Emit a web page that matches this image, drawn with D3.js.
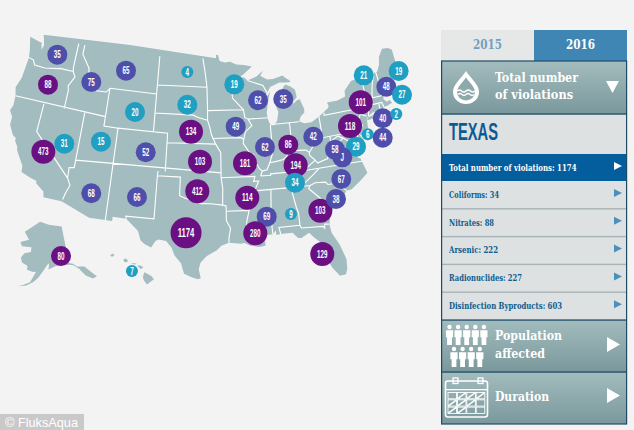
<!DOCTYPE html>
<html><head><meta charset="utf-8">
<script src="https://cdn.jsdelivr.net/npm/d3@7"></script>
<style>html,body{margin:0;padding:0;background:#f3f3f3}svg{display:block}</style></head>
<body><svg id="c" width="634" height="430"></svg>
<script>
// ---- data ----
const states=["WA","OR","ID","MT","ND","SD","WY","NE","KS","OK","TX","NV","CA","UT","CO","AZ","NM","MN","WI","MI","IA","IL","IN","OH","MO","KY","TN","AR","MS","AL","LA","GA","SC","NC","WV","MD","VA","DE","PA","NY","NJ","CT","RI","NH","MA","ME","VT","FL"];
const values=[35,88,75,65,4,32,20,134,103,412,1174,31,473,15,52,68,66,19,62,35,49,62,86,42,181,194,34,114,69,9,280,103,38,67,58,29,50,6,118,101,40,44,2,48,27,19,21,129];
const lons=[-119.89,-120.12,-113.95,-109.04,-99.61,-99.43,-106.94,-98.77,-97.44,-97.73,-99.02,-115.97,-118.48,-111.11,-104.86,-111.29,-105.44,-92.42,-89.01,-85.29,-92.45,-88.53,-85.31,-81.75,-91.38,-84.64,-85,-91.3,-89,-85.95,-90.54,-82.26,-80.09,-78.98,-79.11,-76.25,-78.33,-74.33,-76.47,-74.27,-71.79,-72.46,-69.81,-70.13,-68.28,-67.74,-72.92,-82.77];
const lats=[47.34,44.04,45.31,47.08,47.51,44.07,42.9,41.27,38.16,35.08,30.73,38.44,37.14,39.35,38.84,33.88,34.12,46.21,44.4,44.28,41.77,39.48,39.49,39.97,37.92,37.27,35.48,34.33,32.23,32.28,30.57,32.24,33.19,35.15,38.27,38.16,37.35,39.15,40.39,42.57,40.4,38.44,40.46,43.48,42.22,44.7,45.24,27.71];
const labelOverride={VA:"J"};
const akValue=80, akLonLat=[-144.45,62.37];
const hiValue=7, hiLonLat=[-157.28,20.37];
const yearTabs=["2015","2016"];
const stateName="TEXAS";
const totalLabel="Total number of violations", totalValue=1174;
const subLabels=["Coliforms","Nitrates","Arsenic","Radionuclides","Disinfection Byproducts"];
const subValues=[34,88,222,227,603];

// ---- base geography (lon, lat) ----
const landLine=[[-124.7,48.38],[-123.1,48.15],[-122.75,48.15],[-122.45,47.4],[-122.25,47.9],[-122.5,48.5],[-122.76,49],[-95.15,49],[-95.15,49.38],[-94.82,49.32],[-94.6,48.72],[-93.8,48.55],[-92.95,48.62],[-92,48.3],[-90.8,48.2],[-89.6,48],[-90.8,47.3],[-92,46.7],[-90.9,46.9],[-90.4,46.55],[-89,46.9],[-87.9,47.47],[-88.4,46.95],[-87.4,46.5],[-86.5,46.5],[-85,46.75],[-84.6,46.45],[-84.1,46.2],[-83.9,45.97],[-84.7,45.97],[-85.6,46.05],[-86.4,45.85],[-87,45.7],[-87.6,45.1],[-88,44.55],[-87.4,44.9],[-87.1,45.25],[-87.5,44.3],[-87.9,43],[-87.8,42.3],[-87.5,41.7],[-87,41.65],[-86.5,42.1],[-86.2,43],[-86.5,43.7],[-86.2,44.7],[-85.6,45],[-85,45.6],[-84.75,45.78],[-84,45.5],[-83.4,45.1],[-83.3,44.3],[-83.9,43.9],[-83.9,43.65],[-83.4,43.95],[-82.9,44.05],[-82.45,43],[-82.5,42.6],[-83.1,42.25],[-83.4,41.75],[-82.7,41.5],[-81.7,41.5],[-80.5,41.97],[-79,42.7],[-78.9,42.9],[-79.05,43.27],[-77.5,43.25],[-76.3,43.5],[-76.2,44.1],[-75,44.95],[-74.7,45],[-71.5,45],[-71.4,45.25],[-70.85,45.25],[-70.3,45.9],[-70,46.7],[-69.2,47.45],[-68.3,47.35],[-67.8,47.07],[-67.8,45.7],[-67.45,45.3],[-67,44.85],[-68.2,44.3],[-69,44.1],[-70.2,43.6],[-70.7,43.05],[-70.8,42.8],[-71,42.3],[-70.6,41.95],[-70.2,42.07],[-69.95,41.7],[-70.65,41.55],[-71.2,41.5],[-71.5,41.37],[-72.9,41.25],[-73.65,40.98],[-74,40.7],[-74,40.45],[-74.1,39.75],[-74.9,38.95],[-75.55,39.5],[-75.1,38.75],[-75.05,38.4],[-75.9,37.15],[-75.7,37.9],[-76.2,38.7],[-76.05,39.4],[-76.5,39],[-76.4,38.2],[-76.3,37],[-76,36.9],[-75.5,35.25],[-76.5,34.65],[-77.9,33.9],[-78.6,33.85],[-79.2,33.2],[-80,32.6],[-81,32],[-81.4,30.7],[-81.3,29.8],[-80.55,28.4],[-80.05,26.8],[-80.15,25.75],[-80.4,25.2],[-81.1,25.15],[-81.8,26.1],[-82.2,26.9],[-82.75,27.8],[-82.6,28.8],[-83.4,29.5],[-84,30.1],[-85,29.65],[-85.4,29.7],[-86,30.3],[-87.5,30.3],[-88,30.25],[-88,30.7],[-88.4,30.35],[-89.3,30.3],[-89.6,30.15],[-89.4,29.8],[-89.4,29.2],[-90.2,29.1],[-91.2,29.3],[-91.9,29.6],[-92.3,29.55],[-93.8,29.7],[-94.7,29.4],[-95.3,28.9],[-96.5,28.3],[-97.2,27.6],[-97.4,26.9],[-97.15,25.95],[-97.5,25.85],[-98.2,26.05],[-99.1,26.4],[-99.5,27.5],[-100.3,28.3],[-100.7,29.1],[-101.4,29.77],[-102.3,29.88],[-102.7,29.7],[-103.15,28.98],[-104,29.3],[-104.5,29.65],[-104.9,30.6],[-106,31.4],[-106.5,31.75],[-108.2,31.78],[-108.2,31.33],[-111.07,31.33],[-114.8,32.5],[-117.12,32.53],[-117.3,33.1],[-118.4,33.75],[-118.5,34.03],[-119.2,34.15],[-120.6,34.55],[-120.7,35.2],[-121.9,36.6],[-122,36.96],[-122.5,37.5],[-122.5,37.8],[-123,38],[-123.75,38.95],[-123.8,39.8],[-124.35,40.4],[-124.1,41],[-124.2,42],[-124.55,42.85],[-124.1,44],[-123.95,46.2],[-124.1,46.9],[-124.7,48.38]];
const longIsland=[[-74,40.6],[-73.7,40.88],[-72.6,40.98],[-72,41.08],[-72.5,40.82],[-73.5,40.6],[-74,40.6]];
const borders=[
[[-124,46.25],[-123.2,46.15],[-122.8,45.65],[-121.2,45.65],[-119.3,45.93],[-119,46],[-116.92,46]],
[[-117.03,49],[-117.04,46.42],[-116.92,46],[-116.5,45.5],[-117.2,44.4],[-117.03,44],[-117.03,42]],
[[-124.2,42],[-111.05,42]],
[[-120,42],[-120,39],[-114.63,35],[-114.15,34.3],[-114.5,33.5],[-114.72,32.72]],
[[-114.04,42],[-114.04,36.2],[-114.7,36.1],[-114.63,35]],
[[-111.05,42],[-111.05,41],[-109.05,41],[-109.05,31.33]],
[[-114.04,37],[-94.62,37]],
[[-103,37],[-103.04,36.5],[-103.06,32],[-106.6,32],[-106.5,31.75]],
[[-103.04,36.5],[-100,36.5],[-100,34.56],[-99.2,34.3],[-98.1,34.1],[-97.2,33.8],[-96,33.8],[-94.48,33.64],[-94.04,33.55],[-94.04,32],[-93.55,31.2],[-93.75,30.3],[-93.8,29.7]],
[[-94.62,37],[-94.62,36.5],[-94.43,35.4],[-94.48,33.64]],
[[-109.05,41],[-102.05,41],[-102.04,37]],
[[-102.05,40],[-95.3,40]],
[[-111.05,45],[-104.05,45]],
[[-111.05,45],[-111.05,42]],
[[-104.05,45],[-104.05,41]],
[[-116.05,49],[-116.05,48],[-114.7,46.7],[-114.4,45.6],[-113.5,45.1],[-113,44.5],[-111.5,44.55],[-111.05,45]],
[[-104.05,49],[-104.05,45]],
[[-104.05,45.94],[-96.56,45.94]],
[[-104.05,43],[-98.5,43],[-97.9,42.8],[-96.45,42.49]],
[[-97.23,49],[-96.85,47.5],[-96.56,45.94],[-96.45,43.5],[-96.45,42.49],[-96.1,41.7],[-95.9,41],[-95.3,40],[-94.62,39.1],[-94.62,37]],
[[-96.45,43.5],[-91.22,43.5]],
[[-95.77,40.58],[-91.73,40.61],[-91.4,40.4]],
[[-92,46.7],[-92.3,46.1],[-92.85,45.6],[-92.75,44.75],[-91.22,43.5],[-91.1,42.7],[-90.64,42.5],[-90.15,41.8],[-91.1,41.2],[-91.4,40.4],[-91.5,40],[-90.7,39],[-90.15,38.8],[-90.2,38.4],[-89.5,37.3],[-89.15,37],[-89.4,36.5]],
[[-90.64,42.5],[-87.8,42.5]],
[[-90.4,46.55],[-88.1,45.9],[-87.6,45.1]],
[[-87.53,41.7],[-87.53,39.35],[-87.6,38.7],[-88.05,37.8],[-88.5,37.1],[-89.15,37]],
[[-88.05,37.8],[-87,37.9],[-86.2,38],[-85.7,38.3],[-85.4,38.7],[-84.82,39.1],[-84.3,38.8],[-83,38.7],[-82.6,38.4],[-81.75,39.2],[-80.85,39.7],[-80.52,40.64],[-80.52,41.97]],
[[-84.82,39.1],[-84.8,41.75]],
[[-87,41.76],[-84.8,41.75],[-83.45,41.73]],
[[-79.76,42.27],[-79.76,42],[-75.35,42],[-74.7,41.35],[-75.1,40.9],[-75.2,40.6],[-74.75,40.2],[-75.4,39.8]],
[[-74.7,41.35],[-73.9,41]],
[[-80.52,40.64],[-80.52,39.72],[-75.79,39.72],[-75.7,38.46],[-75.05,38.45]],
[[-79.48,39.72],[-79.48,39.2],[-78.4,39.6],[-77.75,39.3],[-77.1,38.9],[-77.3,38.4],[-76.3,38]],
[[-77.75,39.3],[-78.9,38.7],[-79.65,38.55],[-80.3,37.5],[-81.7,37.2],[-81.97,37.54],[-82.6,38.1],[-82.6,38.4]],
[[-81.97,37.54],[-83.68,36.6]],
[[-75.9,36.55],[-83.68,36.6],[-88.07,36.65],[-88.07,36.5],[-89.4,36.5]],
[[-94.62,36.5],[-90.15,36.5],[-90.37,36],[-89.7,36],[-90.3,35],[-91.1,33.9],[-91.15,33],[-91.5,31.9],[-91.6,31],[-89.75,31],[-89.6,30.15]],
[[-94.04,33],[-91.15,33]],
[[-90.3,35],[-84.3,35],[-83.1,35],[-82.4,35.2],[-81.05,35.1],[-80.8,34.82],[-79.67,34.8],[-78.55,33.86]],
[[-81.68,36.59],[-82.6,36],[-84.3,35]],
[[-83.1,35],[-83.35,34.7],[-82,33.5],[-81.4,32.6],[-80.9,32.03]],
[[-85.6,35],[-85.18,32.87],[-85,32.3],[-85,31],[-84.86,30.7],[-82.2,30.57],[-82.05,30.36],[-81.95,30.8],[-81.45,30.72]],
[[-85,31],[-87.6,31],[-87.45,30.3]],
[[-88.2,35],[-88.47,31.9],[-88.4,30.35]],
[[-73.35,45],[-73.4,43.6],[-73.27,42.75],[-73.5,42.05],[-73.5,41.3],[-73.65,41]],
[[-71.5,45],[-72.05,44.1],[-72.45,43],[-72.46,42.73]],
[[-73.27,42.75],[-71.3,42.7],[-70.8,42.87]],
[[-71.08,45.3],[-70.98,43.4],[-70.7,43.07]],
[[-73.5,42.05],[-71.38,42.02],[-71.2,41.5]],
[[-71.8,42.02],[-71.85,41.32]]];
const alaskaLine=[[-141,69.65],[-141,60.3],[-139,59.9],[-137.5,59],[-134,58.5],[-131,56],[-130,55.2],[-132,55],[-134.5,56.2],[-136.3,57.8],[-136.5,58.2],[-139,59.5],[-141,59.9],[-144,60],[-148,60],[-151.5,59.3],[-151,61],[-149.9,61.2],[-152,60.5],[-154,59],[-156.5,57.2],[-158.5,56.1],[-161.5,55.1],[-165,54.6],[-163,55.1],[-160,56],[-157.5,58.7],[-159,58.6],[-162,59],[-162,60],[-165,60.6],[-166,61.8],[-164.5,63],[-161,63.5],[-161,64.7],[-166.5,64.6],[-168,65.6],[-163,66.5],[-166.5,68.3],[-163,69.5],[-156.5,71.3],[-150,70.5],[-141,69.65]];
const hawaiiLines=[[[-159.75,22.05],[-159.35,22.2],[-159.3,21.95],[-159.55,21.88],[-159.75,22.05]],[[-158.25,21.55],[-158,21.7],[-157.7,21.45],[-157.9,21.3],[-158.1,21.3],[-158.25,21.55]],[[-157.3,21.2],[-156.75,21.17],[-156.85,21.05],[-157.3,21.1],[-157.3,21.2]],[[-156.7,20.95],[-156.3,20.95],[-156,20.75],[-156.3,20.58],[-156.5,20.78],[-156.7,20.95]],[[-155.9,20.25],[-155.6,20.1],[-155.1,19.85],[-154.8,19.5],[-155.6,18.95],[-155.95,19.4],[-156.05,19.75],[-155.9,20.25]]];

// ---- projections and scales ----
const svg=d3.select("#c");
const conus=d3.geoAlbers().rotate([96,0]).center([-0.6,38.7]).parallels([29.5,45.5]).scale(545.32).translate([206.26,156.62]);
const ak=d3.geoAlbers().rotate([154,0]).center([0,62]).parallels([55,65]).scale(229.25).translate([43.39,258.74]);
const hi=d3.geoMercator().scale(509.3).translate([1530,456.03]);
const color=d3.scaleThreshold().domain([35,80]).range(["#1f9fc2","#4f4fab","#6a1083"]);
const radius=d3.scaleThreshold().domain([10,100,1000]).range([6,10,12,15.5]);
const LAND="#a3bcbf";

// ---- map ----
const P=d3.geoPath(conus),PA=d3.geoPath(ak),PH=d3.geoPath(hi);
const map=svg.append("g");
map.append("path").attr("d",P({type:"LineString",coordinates:landLine})).attr("fill",LAND);
map.append("path").attr("d",P({type:"LineString",coordinates:longIsland})).attr("fill",LAND);
map.append("path").attr("d",P({type:"MultiLineString",coordinates:borders})).attr("fill","none").attr("stroke","#fff").attr("stroke-width",1.1);
map.append("path").attr("d",PA({type:"LineString",coordinates:alaskaLine})).attr("fill",LAND);
map.append("path").attr("d",PH({type:"MultiLineString",coordinates:hawaiiLines})).attr("fill",LAND);

// ---- bubbles: circles first, then all labels above them ----
const bubbles=states.map((s,i)=>{const p=conus([lons[i],lats[i]]);return {label:labelOverride[s]||String(values[i]),v:values[i],x:p[0],y:p[1]};});
const ap=ak(akLonLat),hp=hi(hiLonLat);
bubbles.push({label:String(akValue),v:akValue,x:ap[0],y:ap[1]},{label:String(hiValue),v:hiValue,x:hp[0],y:hp[1]});
svg.append("g").selectAll("circle").data(bubbles).join("circle").attr("cx",d=>d.x).attr("cy",d=>d.y).attr("r",d=>radius(d.v)).attr("fill",d=>color(d.v));
svg.append("g").selectAll("text").data(bubbles).join("text").text(d=>d.label)
  .attr("x",d=>d.x).attr("y",d=>d.y+(d.v>=1000?4.3:3.6)).attr("text-anchor","middle")
  .attr("font-family","'Liberation Sans',sans-serif").attr("font-weight","700")
  .attr("font-size",d=>d.v>=1000?12:10).attr("fill","#fff")
  .attr("textLength",d=>d.label.length*(d.v>=1000?4.2:3.5)).attr("lengthAdjust","spacingAndGlyphs");

// ---- panel ----
const SLAB="'DejaVu Serif Condensed','DejaVu Serif',serif";
const defs=svg.append("defs");
const gr=defs.append("linearGradient").attr("id","hd").attr("x1",0).attr("x2",0).attr("y1",0).attr("y2",1);
gr.append("stop").attr("offset",0).attr("stop-color","#a3bcbe");
gr.append("stop").attr("offset",1).attr("stop-color","#7a989c");
const panel=svg.append("g");
function rect(x,y,w,h,f){return panel.append("rect").attr("x",x).attr("y",y).attr("width",w).attr("height",h).attr("fill",f);}
function slab(t,x,y,size,len,fill){return panel.append("text").text(t).attr("x",x).attr("y",y).attr("font-family",SLAB).attr("font-weight","700").attr("font-size",size).attr("fill",fill).attr("textLength",len).attr("lengthAdjust","spacingAndGlyphs");}
function tri(pts,fill){panel.append("path").attr("d",d3.line()(pts)+"Z").attr("fill",fill);}

// tabs
rect(441,30,93,31,"#e6e8e8");
rect(534,30,93,31,"#3f86b5");
slab(yearTabs[0],473,49,13,29,"#6f9fc2");
slab(yearTabs[1],566,49,13,29,"#ffffff");

// header
rect(441,61,186,53,"url(#hd)");
slab("Total number",495,82,13.5,83,"#fff");
slab("of violations",495,99,13.5,78,"#fff");
tri([[606,81],[619,81],[612.5,93]],"#fff");
// droplet icon
panel.append("path").attr("d","M466,71C462,78 453,84 453,92A13,12 0 0 0 479,92C479,84 470,78 466,71Z").attr("fill","#fff");
panel.append("path").attr("d","M466,77.5C463,82 457,87 457,92A9,8.5 0 0 0 475,92C475,87 469,82 466,77.5Z").attr("fill","#8ea9ac");
panel.append("path").attr("d","M457,91q2.2,-2 4.5,0t4.5,0t4.5,0t4.5,0").attr("fill","none").attr("stroke","#fff").attr("stroke-width",1.6);
panel.append("path").attr("d","M458,94.5q2,-1.8 4,0t4,0t4,0t4,0").attr("fill","none").attr("stroke","#fff").attr("stroke-width",1.4);

// state block
rect(441,114,186,40,"#dde1e2");
panel.append("text").text(stateName).attr("x",449).attr("y",140).attr("font-family","'Liberation Sans Narrow','Liberation Sans',sans-serif").attr("font-weight","700").attr("font-size",24).attr("fill","#0a5a96").attr("textLength",49).attr("lengthAdjust","spacingAndGlyphs");

// selected row
rect(441,154,186,27,"#045d9d");
slab(`${totalLabel}: ${totalValue}`,449,170.5,9.5,127.5,"#fff");
tri([[614,162],[614,170],[622,166]],"#fff");

// sub rows
const rowH=27.8, rowTop=181;
const rowTextLens=[50,45,49,73,113];
rect(441,rowTop,186,rowH*subLabels.length,"#dde1e2");
subLabels.forEach((l,i)=>{
  const y=rowTop+i*rowH;
  if(i>0) rect(441,y-0.7,186,1.4,"#a9b4b7");
  slab(`${l}: ${subValues[i]}`,449,y+16.8,9.5,rowTextLens[i],"#0f5c8c");
  tri([[614,y+8],[614,y+16],[622,y+12]],"#4d8fbc");
});

// lower headers
rect(441,320,186,52,"url(#hd)");
rect(441,372,186,52,"url(#hd)");
slab("Population",495,340,13.5,67,"#fff");
slab("affected",495,358,13.5,50,"#fff");
slab("Duration",495,401,13.5,54,"#fff");
tri([[607,337],[607,352],[620,344.5]],"#fff");
tri([[607,388],[607,403],[620,395.5]],"#fff");

// people icon
const rowsP=[{n:5,x0:449.5,y0:325},{n:4,x0:454,y0:347}];
rowsP.forEach(r=>d3.range(r.n).forEach(i=>{
  const x=r.x0+i*8.6,y=r.y0;
  panel.append("circle").attr("cx",x).attr("cy",y+2).attr("r",2.2).attr("fill","#fff");
  panel.append("path").attr("d",`M${x-3.6},${y+5.2}h7.2v7h-1.2v7.8h-4.8v-7.8h-1.2z`).attr("fill","#fff");
}));

// calendar icon
panel.append("rect").attr("x",445.5).attr("y",381).attr("width",42).attr("height",36).attr("rx",2.5).attr("fill","none").attr("stroke","#fff").attr("stroke-width",1.6);
[453,478].forEach(x=>panel.append("rect").attr("x",x).attr("y",378).attr("width",5).attr("height",5.5).attr("fill","none").attr("stroke","#fff").attr("stroke-width",1.3));
panel.append("rect").attr("x",445.5).attr("y",389).attr("width",42).attr("height",1.3).attr("fill","#fff");
d3.range(3).forEach(r=>d3.range(4).forEach(c=>{
  const x=448+c*9.4,y=392.5+r*7.3;
  panel.append("rect").attr("x",x).attr("y",y).attr("width",8.6).attr("height",6.3).attr("fill","none").attr("stroke","#fff").attr("stroke-width",0.9);
  if((r===0&&c>0)||(r===1&&c<3)||(r===2&&c<2)) panel.append("path").attr("d",`M${x},${y+6.3}L${x+8.6},${y}`).attr("stroke","#fff").attr("stroke-width",1.5);
}));

// frames
panel.append("rect").attr("x",441.6).attr("y",61).attr("width",185).attr("height",363).attr("fill","none").attr("stroke","#1f4b66").attr("stroke-width",1.2);
[114,320,372].forEach(y=>panel.append("rect").attr("x",441).attr("y",y-0.6).attr("width",186).attr("height",1.3).attr("fill","#1f4b66"));

// watermark
svg.append("rect").attr("x",0).attr("y",414).attr("width",84).attr("height",16).attr("fill","#c9c9c9");
svg.append("text").text("© FluksAqua").attr("x",5).attr("y",426.5).attr("font-family","'Liberation Sans',sans-serif").attr("font-size",13).attr("fill","#fff").attr("textLength",73).attr("lengthAdjust","spacingAndGlyphs");
</script></body></html>
